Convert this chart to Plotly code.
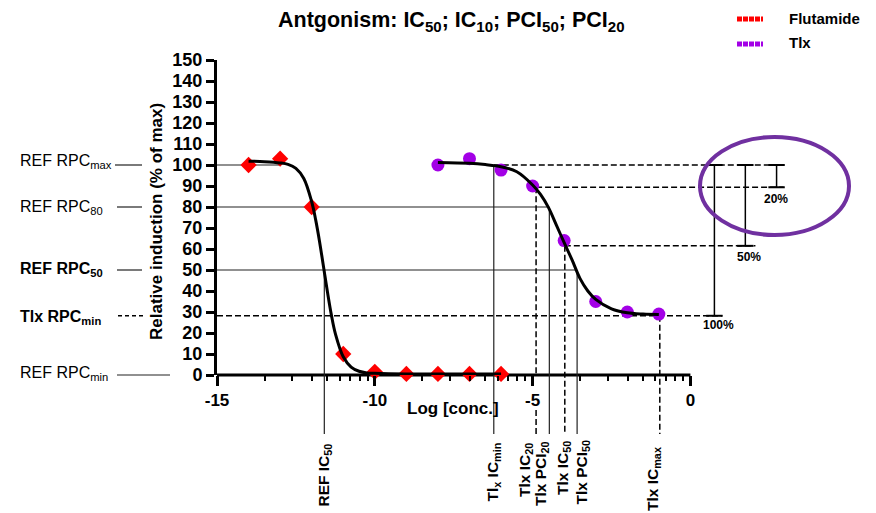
import math
import plotly.graph_objects as go

# ---------------- data ----------------
flut_x = [-14, -13, -12, -11, -10, -9, -8, -7, -6]
flut_y = [100, 103, 80, 10, 1.5, 0.5, 0.5, 0.5, 0.5]

tlx_x = [-8, -7, -6, -5, -4, -3, -2, -1]
tlx_y = [100, 103, 97.6, 90, 64, 35, 30, 29]

flut_fit_x = [-14, -13.5, -13, -12.75, -12.5, -12.25, -12, -11.875, -11.75, -11.625,
              -11.5, -11.375, -11.25, -11, -10.75, -10.5, -10.25, -10, -9, -8, -7, -6]
flut_fit_y = [101.8, 101.6, 101.0, 100.3, 98.4, 93.6, 82.5, 74.0, 63.5, 51.5,
              39.5, 28.5, 19.7, 8.7, 3.8, 1.8, 1.0, 0.8, 0.5, 0.5, 0.5, 0.5]

tlx_fit_x = [-8, -7, -6.5, -6, -5.5, -5, -4.75, -4.5, -4.25, -4, -3.75, -3.5,
             -3.25, -3, -2.5, -2, -1.5, -1]
tlx_fit_y = [101.2, 100.8, 100.2, 99.2, 96.8, 90.5, 86.0, 79.8, 71.5, 63.0, 54.8, 46.0,
             40.0, 36.0, 31.5, 29.6, 29.0, 28.8]

# response levels (% of max)
ref_rpc_max, ref_rpc_80, ref_rpc_50, ref_rpc_min = 100, 80, 50, 0
tlx_rpc_max, tlx_rpc_20, tlx_rpc_50, tlx_rpc_min = 100, 89.4, 61.5, 28.2

# log concentrations of the guide lines
ref_ic50 = -11.60
tlx_icmin = -6.23
tlx_ic20 = -4.89
tlx_pci20 = -4.47
tlx_ic50 = -3.98
tlx_pci50 = -3.59
tlx_icmax = -0.97

y_ticks = list(range(0, 151, 10))
x_ticks = [-15, -10, -5, 0]
x_tick_labels = ["-15", "-10", "-5", "0"]
x_minor = [d + 5 * math.log10(k) for d in (-15, -10, -5) for k in range(2, 10)]

# ---------------- layout geometry ----------------
FW, FH = 876, 513
ML, MR, MT, MB = 217, 12, 60, 138
PW, PH = FW - ML - MR, FH - MT - MB
X0, X1 = -15, 5.5
Y0, Y1 = 0, 150

def xd(v):  # data x -> paper
    return (v - X0) / (X1 - X0)

def yd(v):  # data y -> paper
    return (v - Y0) / (Y1 - Y0)

def xpx(p):  # pixel -> paper
    return (p - ML) / PW

def ypx(p):
    return (FH - MB - p) / PH

FONT = "Liberation Sans, Arial, sans-serif"
LINEC = "#222222"
RED = "#FF0000"
PURPLE = "#A300E6"
BELOW = ypx(434)

shapes = []

def seg(x0, y0, x1, y1, dash="solid", w=1.2, color=LINEC, layer="below"):
    shapes.append(dict(type="line", xref="paper", yref="paper",
                       x0=x0, y0=y0, x1=x1, y1=y1, layer=layer,
                       line=dict(color=color, width=w, dash=dash)))

DASH = "6px,3px"
DW = 1.5
DC = "black"

# x axis line (only from -15 to 0)
seg(xd(-15), 0, xd(0), 0, w=3, color="black")

# horizontal guides inside plot
seg(xd(-15), yd(ref_rpc_max), xd(-13), yd(ref_rpc_max))
seg(xd(-15), yd(ref_rpc_80), xd(tlx_pci20), yd(ref_rpc_80))
seg(xd(-15), yd(ref_rpc_50), xd(tlx_pci50), yd(ref_rpc_50))
seg(xd(-15), yd(tlx_rpc_min), xd(1.01), yd(tlx_rpc_min), dash=DASH, w=DW, color=DC)
seg(xd(tlx_icmin), yd(tlx_rpc_max), xd(2.95), yd(tlx_rpc_max), dash=DASH, w=DW, color=DC)
seg(xd(tlx_ic20), yd(tlx_rpc_20), xd(2.95), yd(tlx_rpc_20), dash=DASH, w=DW, color=DC)
seg(xd(tlx_ic50), yd(tlx_rpc_50), xd(2.06), yd(tlx_rpc_50), dash=DASH, w=DW, color=DC)

# vertical guides down below the axis
seg(xd(ref_ic50), yd(ref_rpc_50), xd(ref_ic50), BELOW)
seg(xd(tlx_icmin), yd(tlx_rpc_max), xd(tlx_icmin), BELOW)
seg(xd(tlx_ic20), yd(tlx_rpc_20), xd(tlx_ic20), 0, dash=DASH, w=DW, color=DC)
seg(xd(tlx_ic20), ypx(410), xd(tlx_ic20), BELOW, dash=DASH, w=DW, color=DC)
seg(xd(tlx_pci20), yd(ref_rpc_80), xd(tlx_pci20), BELOW)
seg(xd(tlx_ic50), yd(tlx_rpc_50), xd(tlx_ic50), BELOW, dash=DASH, w=DW, color=DC)
seg(xd(tlx_pci50), yd(ref_rpc_50), xd(tlx_pci50), BELOW)
seg(xd(tlx_icmax), yd(tlx_rpc_min), xd(tlx_icmax), BELOW, dash=DASH, w=DW, color=DC)

# short lines next to left labels
seg(xpx(115), yd(ref_rpc_max), xpx(142), yd(ref_rpc_max))
seg(xpx(117), yd(ref_rpc_80), xpx(142), yd(ref_rpc_80))
seg(xpx(117), yd(ref_rpc_50), xpx(142), yd(ref_rpc_50))
seg(xpx(118), yd(tlx_rpc_min), xpx(146), yd(tlx_rpc_min), dash="4px,3px", w=DW, color=DC)
seg(xpx(117), yd(ref_rpc_min), xpx(170), yd(ref_rpc_min))

# brackets (20 %, 50 %, 100 %)
for bx, lo in ((2.73, tlx_rpc_20), (1.74, tlx_rpc_50), (0.76, tlx_rpc_min)):
    seg(xd(bx), yd(tlx_rpc_max), xd(bx), yd(lo), w=1.5, color="black")
    seg(xd(bx - 0.26), yd(tlx_rpc_max), xd(bx + 0.26), yd(tlx_rpc_max), w=2, color="black")
    seg(xd(bx - 0.26), yd(lo), xd(bx + 0.26), yd(lo), w=2, color="black")

# purple ellipse
shapes.append(dict(type="circle", xref="paper", yref="paper",
                   x0=xpx(700), x1=xpx(849), y0=ypx(137), y1=ypx(235),
                   line=dict(color="#7030A0", width=4), layer="above"))

# legend samples
seg(xpx(737), ypx(19), xpx(763), ypx(19), w=5, color=RED, dash="5px,1px", layer="above")
seg(xpx(737), ypx(44), xpx(763), ypx(44), w=5, color=PURPLE, dash="5px,1px", layer="above")

annotations = []

def ann(text, x, y, size=16, bold=False, xanchor="center", yanchor="middle", angle=0):
    annotations.append(dict(text=("<b>%s</b>" % text) if bold else text,
                            x=x, y=y, xref="paper", yref="paper", showarrow=False,
                            xanchor=xanchor, yanchor=yanchor, textangle=angle,
                            font=dict(family=FONT, size=size, color="black")))

# title
ann("Antgonism: IC<sub>50</sub>; IC<sub>10</sub>; PCI<sub>50</sub>; PCI<sub>20</sub>",
    xpx(451), ypx(22), size=21.5, bold=True)
# legend texts
ann("Flutamide", xpx(787), ypx(18), size=15, bold=True, xanchor="left")
ann("Tlx", xpx(787), ypx(43), size=15, bold=True, xanchor="left")
# axis titles
ann("Log [conc.]", xpx(453), ypx(408), size=17, bold=True)
ann("Relative induction (% of max)", xpx(157), ypx(222), size=17, bold=True, angle=-90)

# left labels
ann("REF RPC<sub>max</sub>", xpx(18), ypx(161), xanchor="left")
ann("REF RPC<sub>80</sub>", xpx(18), ypx(207), xanchor="left")
ann("REF RPC<sub>50</sub>", xpx(18), ypx(269), bold=True, xanchor="left")
ann("Tlx RPC<sub>min</sub>", xpx(18), ypx(317), bold=True, xanchor="left")
ann("REF RPC<sub>min</sub>", xpx(18), ypx(373), xanchor="left")

# rotated labels under the axis
for txt, cx, top in (("REF IC<sub>50</sub>", 324, 442),
                     ("Tl<sub>x</sub> IC<sub>min</sub>", 493, 441),
                     ("Tlx IC<sub>20</sub>", 525, 441),
                     ("Tlx PCI<sub>20</sub>", 541.5, 439),
                     ("Tlx IC<sub>50</sub>", 563, 439),
                     ("Tlx PCI<sub>50</sub>", 582, 438),
                     ("Tlx IC<sub>max</sub>", 653, 445)):
    ann(txt, xpx(cx), ypx(top), size=15.5, bold=True, yanchor="top", angle=-90)

# bracket labels
ann("20%", xd(2.71), yd(83.8), size=12, bold=True)
ann("50%", xd(1.85), yd(56.2), size=12, bold=True)
ann("100%", xd(0.90), yd(23.8), size=12, bold=True)

fig = go.Figure()
fig.add_trace(go.Scatter(x=flut_x, y=flut_y, mode="markers", name="Flutamide",
                         marker=dict(symbol="diamond", size=12.5, color=RED),
                         cliponaxis=False, showlegend=False))
fig.add_trace(go.Scatter(x=tlx_x, y=tlx_y, mode="markers", name="Tlx",
                         marker=dict(symbol="circle", size=13, color=PURPLE),
                         cliponaxis=False, showlegend=False))
fig.add_trace(go.Scatter(x=flut_fit_x, y=flut_fit_y, mode="lines", line_shape="spline",
                         line=dict(color="black", width=3), showlegend=False,
                         cliponaxis=False))
fig.add_trace(go.Scatter(x=tlx_fit_x, y=tlx_fit_y, mode="lines", line_shape="spline",
                         line=dict(color="black", width=3), showlegend=False,
                         cliponaxis=False))

fig.update_layout(
    width=FW, height=FH,
    margin=dict(l=ML, r=MR, t=MT, b=MB),
    paper_bgcolor="white", plot_bgcolor="rgba(0,0,0,0)",
    showlegend=False,
    shapes=shapes, annotations=annotations,
    xaxis=dict(range=[X0, X1], tickmode="array", tickvals=x_ticks, ticktext=x_tick_labels,
               ticks="outside", ticklen=10, tickwidth=3, tickcolor="black",
               showgrid=False, zeroline=False, showline=False,
               tickfont=dict(family=FONT, size=17, color="black", weight="bold"),
               minor=dict(tickmode="array", tickvals=x_minor, ticks="outside",
                          ticklen=5, tickwidth=2, tickcolor="black", showgrid=False)),
    yaxis=dict(range=[Y0, Y1], tickmode="array", tickvals=y_ticks,
               ticks="outside", ticklen=8, tickwidth=3, tickcolor="black",
               showgrid=False, zeroline=False, showline=True, linewidth=3,
               linecolor="black",
               tickfont=dict(family=FONT, size=18, color="black", weight="bold")),
)

fig.write_html("out.html")
